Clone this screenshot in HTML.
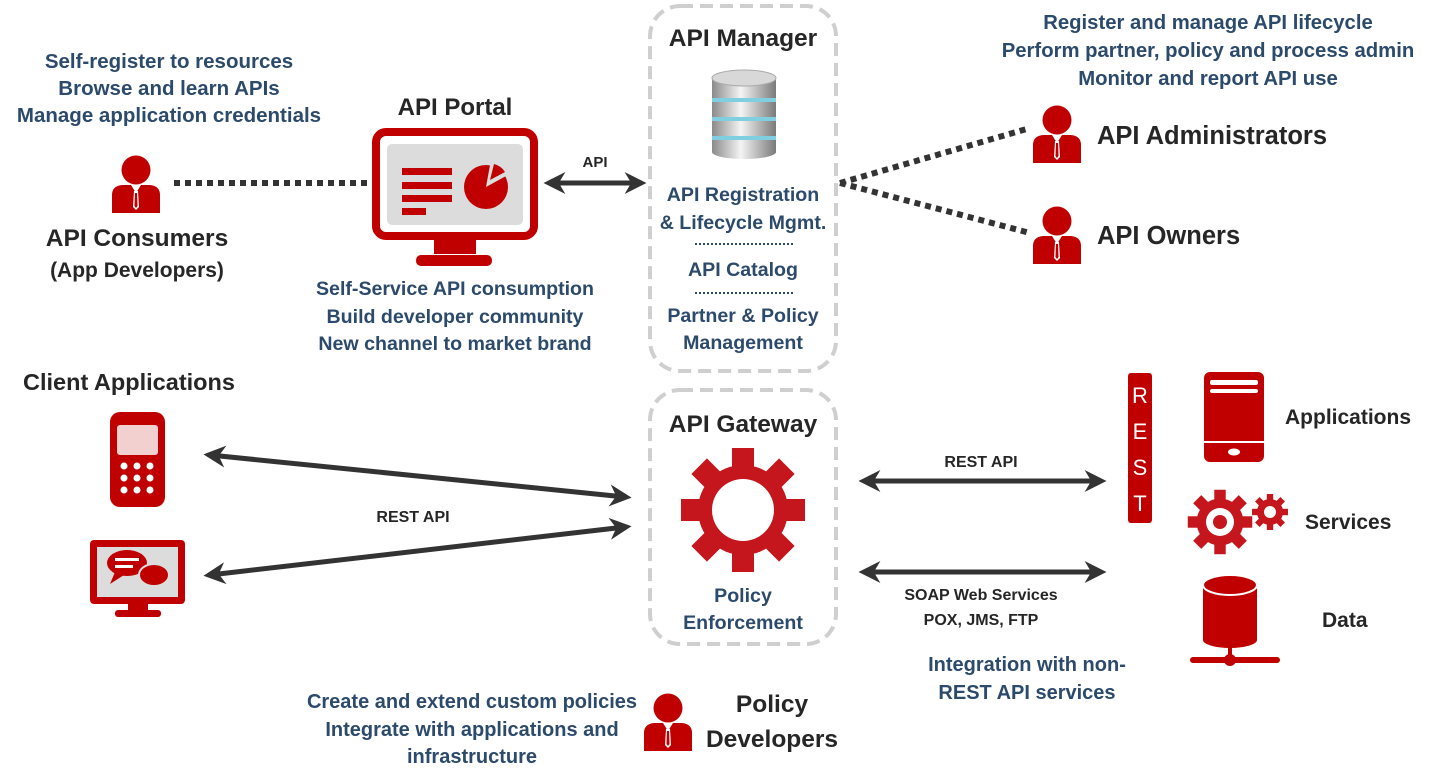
<!DOCTYPE html>
<html><head><meta charset="utf-8"><style>
body{margin:0;background:#fff}
svg{display:block}
text{font-family:"Liberation Sans",sans-serif;font-weight:bold}
.n{fill:#2c4a6b;font-size:19.6px}
.d{fill:#262626}
</style></head><body>
<svg width="1434" height="783" viewBox="0 0 1434 783" xmlns="http://www.w3.org/2000/svg">
<defs>
<marker id="ah" viewBox="0 0 10 10" refX="7" refY="5" markerWidth="4.4" markerHeight="4.4" orient="auto-start-reverse"><path d="M0,0 L10,5 L0,10 L3,5 z" fill="#333"/></marker>
<g id="person">
<circle cx="25" cy="15" r="14.5" fill="#c00000"/>
<path d="M1,58 L1,40 Q1,31 11,30 L39,30 Q49,31 49,40 L49,58 Z" fill="#c00000"/>
<path d="M20,30 L25,38 L30,30 Z" fill="#fff"/>
<path d="M23,36 L27,36 L28,52 L25,55 L22,52 Z" fill="#fff"/>
<path d="M24,38 L26,38 L26.5,51 L25,53 L23.5,51 Z" fill="#c00000"/>
</g>
<g id="gear">
<circle r="45"/>
<rect x="-11" y="-62" width="22" height="124"/>
<rect x="-11" y="-62" width="22" height="124" transform="rotate(45)"/>
<rect x="-11" y="-62" width="22" height="124" transform="rotate(90)"/>
<rect x="-11" y="-62" width="22" height="124" transform="rotate(135)"/>
</g>
<linearGradient id="cyl" x1="0" x2="1"><stop offset="0" stop-color="#8a8a8a"/><stop offset=".45" stop-color="#f4f4f4"/><stop offset="1" stop-color="#7a7a7a"/></linearGradient>
</defs>

<text class="n" x="169" y="68" text-anchor="middle" font-size="20.5" style="font-size:20.5px">Self-register to resources</text>
<text class="n" x="169" y="95" text-anchor="middle" style="font-size:20.5px">Browse and learn APIs</text>
<text class="n" x="169" y="122" text-anchor="middle" style="font-size:20.5px">Manage application credentials</text>
<use href="#person" x="111" y="155"/>
<text class="d" x="137" y="246" text-anchor="middle" font-size="24.5">API Consumers</text>
<text class="d" x="137" y="277" text-anchor="middle" font-size="21">(App Developers)</text>
<line x1="174" y1="183" x2="372" y2="183" stroke="#333" stroke-width="6" stroke-dasharray="6 5"/>

<text class="d" x="455" y="115" text-anchor="middle" font-size="24">API Portal</text>
<rect x="376" y="132" width="158" height="104" rx="10" fill="#fff" stroke="#c00000" stroke-width="8"/>
<rect x="387" y="144" width="136" height="81" rx="5" fill="#dcdcdc"/>
<rect x="402" y="168" width="50" height="7" fill="#c00000"/>
<rect x="402" y="182" width="50" height="7" fill="#c00000"/>
<rect x="402" y="195" width="50" height="7" fill="#c00000"/>
<rect x="402" y="208" width="24" height="7" fill="#c00000"/>
<circle cx="486" cy="187" r="22" fill="#c00000"/>
<path d="M486,187 L490,165 A22,22 0 0 1 506,176 Z" fill="#dcdcdc"/>
<path d="M490,180 L494,164 A18,18 0 0 1 505,172 Z" fill="#c00000"/>
<rect x="434" y="240" width="42" height="14" fill="#c00000"/>
<rect x="416" y="255" width="76" height="11" rx="5" fill="#c00000"/>
<text class="n" x="455" y="295" text-anchor="middle">Self-Service API consumption</text>
<text class="n" x="455" y="323" text-anchor="middle">Build developer community</text>
<text class="n" x="455" y="350" text-anchor="middle">New channel to market brand</text>

<line x1="550" y1="183" x2="640" y2="183" stroke="#333" stroke-width="5" marker-start="url(#ah)" marker-end="url(#ah)"/>
<text class="d" x="595" y="167" text-anchor="middle" font-size="15">API</text>

<rect x="650" y="6" width="186" height="365" rx="30" fill="none" stroke="#cfcfcf" stroke-width="4" stroke-dasharray="13 7"/>
<text class="d" x="743" y="46" text-anchor="middle" font-size="24.5">API Manager</text>
<g>
<rect x="712" y="78" width="64" height="74" fill="url(#cyl)"/>
<ellipse cx="744" cy="152" rx="32" ry="7" fill="url(#cyl)"/>
<rect x="712" y="98" width="64" height="4" fill="#7fcfe0"/>
<rect x="712" y="117" width="64" height="4" fill="#7fcfe0"/>
<rect x="712" y="136" width="64" height="4" fill="#7fcfe0"/>
<ellipse cx="744" cy="78" rx="32" ry="8" fill="#d8d8d8" stroke="#aaa"/>
</g>
<text class="n" x="743" y="201" text-anchor="middle">API Registration</text>
<text class="n" x="743" y="229" text-anchor="middle">&amp; Lifecycle Mgmt.</text>
<line x1="695" y1="244" x2="795" y2="244" stroke="#2c4a6b" stroke-width="2" stroke-dasharray="2 2"/>
<text class="n" x="743" y="276" text-anchor="middle">API Catalog</text>
<line x1="695" y1="293" x2="795" y2="293" stroke="#2c4a6b" stroke-width="2" stroke-dasharray="2 2"/>
<text class="n" x="743" y="322" text-anchor="middle">Partner &amp; Policy</text>
<text class="n" x="743" y="349" text-anchor="middle">Management</text>

<line x1="840" y1="183" x2="1030" y2="128" stroke="#333" stroke-width="6" stroke-dasharray="6 5"/>
<line x1="840" y1="183" x2="1030" y2="233" stroke="#333" stroke-width="6" stroke-dasharray="6 5"/>

<text class="n" x="1208" y="29" text-anchor="middle" style="font-size:20.3px">Register and manage API lifecycle</text>
<text class="n" x="1208" y="57" text-anchor="middle" style="font-size:20.3px">Perform partner, policy and process admin</text>
<text class="n" x="1208" y="85" text-anchor="middle" style="font-size:20.3px">Monitor and report API use</text>
<use href="#person" x="1032" y="105"/>
<text class="d" x="1097" y="144" font-size="25.5">API Administrators</text>
<use href="#person" x="1032" y="206"/>
<text class="d" x="1097" y="244" font-size="25.5">API Owners</text>

<text class="d" x="23" y="390" font-size="23.5">Client Applications</text>
<rect x="110" y="412" width="55" height="95" rx="10" fill="#c00000"/>
<rect x="117" y="425" width="41" height="30" rx="3" fill="#f2d0d0"/>
<g fill="#fff">
<circle cx="124" cy="466" r="3.5"/><circle cx="137" cy="466" r="3.5"/><circle cx="150" cy="466" r="3.5"/>
<circle cx="124" cy="478" r="3.5"/><circle cx="137" cy="478" r="3.5"/><circle cx="150" cy="478" r="3.5"/>
<circle cx="124" cy="490" r="3.5"/><circle cx="137" cy="490" r="3.5"/><circle cx="150" cy="490" r="3.5"/>
</g>
<rect x="90" y="540" width="95" height="64" rx="4" fill="#c00000"/>
<rect x="97" y="547" width="81" height="50" fill="#dcdcdc"/>
<rect x="128" y="604" width="20" height="6" fill="#c00000"/>
<rect x="115" y="610" width="46" height="7" rx="3" fill="#c00000"/>
<ellipse cx="127" cy="563" rx="20" ry="13" fill="#c00000"/>
<path d="M115,572 L110,584 L124,575 Z" fill="#c00000"/>
<ellipse cx="154" cy="575" rx="15" ry="11" fill="#c00000" stroke="#dcdcdc" stroke-width="2"/>
<rect x="115" y="558" width="24" height="3" fill="#fff"/><rect x="115" y="565" width="18" height="3" fill="#fff"/>

<line x1="210" y1="455" x2="625" y2="497" stroke="#333" stroke-width="5" marker-start="url(#ah)" marker-end="url(#ah)"/>
<line x1="210" y1="575" x2="625" y2="527" stroke="#333" stroke-width="5" marker-start="url(#ah)" marker-end="url(#ah)"/>
<text class="d" x="413" y="522" text-anchor="middle" font-size="16">REST API</text>

<rect x="650" y="390" width="186" height="254" rx="30" fill="none" stroke="#cfcfcf" stroke-width="4" stroke-dasharray="13 7"/>
<text class="d" x="743" y="432" text-anchor="middle" font-size="24.5">API Gateway</text>
<g fill="#c4161c" transform="translate(743,510)"><use href="#gear"/></g>
<circle cx="743" cy="510" r="31" fill="#fff"/>
<text class="n" x="743" y="602" text-anchor="middle">Policy</text>
<text class="n" x="743" y="629" text-anchor="middle">Enforcement</text>

<line x1="865" y1="481" x2="1100" y2="481" stroke="#333" stroke-width="5" marker-start="url(#ah)" marker-end="url(#ah)"/>
<text class="d" x="981" y="467" text-anchor="middle" font-size="16">REST API</text>
<line x1="865" y1="572" x2="1100" y2="572" stroke="#333" stroke-width="5" marker-start="url(#ah)" marker-end="url(#ah)"/>
<text class="d" x="981" y="600" text-anchor="middle" font-size="16">SOAP Web Services</text>
<text class="d" x="981" y="625" text-anchor="middle" font-size="16">POX, JMS, FTP</text>
<text class="n" x="1027" y="671" text-anchor="middle" style="font-size:20px">Integration with non-</text>
<text class="n" x="1027" y="699" text-anchor="middle" style="font-size:20px">REST API services</text>

<rect x="1128" y="373" width="24" height="150" rx="3" fill="#c00000"/>
<g fill="#fff" font-family="Liberation Sans,sans-serif" font-size="22" text-anchor="middle">
<text x="1140" y="403" style="font-weight:normal">R</text><text x="1140" y="439" style="font-weight:normal">E</text>
<text x="1140" y="475" style="font-weight:normal">S</text><text x="1140" y="511" style="font-weight:normal">T</text></g>
<rect x="1204" y="372" width="60" height="90" rx="6" fill="#c00000"/>
<rect x="1210" y="380" width="48" height="5" rx="2" fill="#fff"/>
<rect x="1210" y="389" width="48" height="4" rx="2" fill="#fff"/>
<rect x="1204" y="441" width="60" height="2" fill="#fff"/>
<ellipse cx="1234" cy="452" rx="6" ry="3.5" fill="#fff"/>
<text class="d" x="1285" y="424" font-size="21">Applications</text>
<g fill="#c4161c" transform="translate(1220,522) scale(0.52)"><use href="#gear"/></g>
<circle cx="1220" cy="522" r="14" fill="#fff"/><circle cx="1220" cy="522" r="7" fill="#c4161c"/>
<g fill="#c4161c" transform="translate(1270,512) scale(0.29)"><use href="#gear"/></g>
<circle cx="1270" cy="512" r="6" fill="#fff"/>
<text class="d" x="1305" y="529" font-size="21">Services</text>
<rect x="1203" y="585" width="54" height="55" fill="#c00000"/>
<ellipse cx="1230" cy="640" rx="27" ry="8" fill="#c00000"/>
<ellipse cx="1230" cy="585" rx="27" ry="10" fill="#c00000" stroke="#fff" stroke-width="2"/>
<rect x="1228" y="645" width="4" height="12" fill="#c00000"/>
<rect x="1190" y="657" width="90" height="6" rx="3" fill="#c00000"/>
<circle cx="1230" cy="660" r="6" fill="#c00000"/>
<text class="d" x="1322" y="627" font-size="21">Data</text>

<text class="n" x="472" y="708" text-anchor="middle" style="font-size:20px">Create and extend custom policies</text>
<text class="n" x="472" y="736" text-anchor="middle" style="font-size:20px">Integrate with applications and</text>
<text class="n" x="472" y="763" text-anchor="middle" style="font-size:20px">infrastructure</text>
<use href="#person" x="643" y="693"/>
<text class="d" x="772" y="712" text-anchor="middle" font-size="24.5">Policy</text>
<text class="d" x="772" y="747" text-anchor="middle" font-size="24.5">Developers</text>
</svg>
</body></html>
